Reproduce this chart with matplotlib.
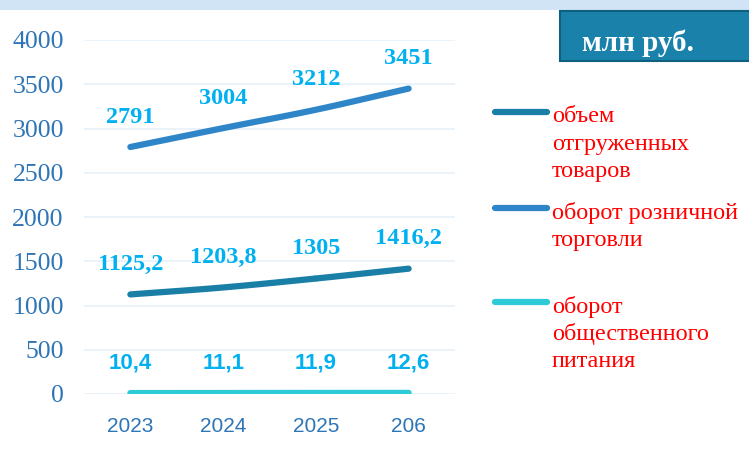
import numpy as np
import matplotlib
matplotlib.use("Agg")
import matplotlib.pyplot as plt
from matplotlib.patches import Rectangle

categories = ["2023", "2024", "2025", "206"]
shipped = [1125.2, 1203.8, 1305, 1416.2]
retail = [2791, 3004, 3212, 3451]
catering = [10.4, 11.1, 11.9, 12.6]
shipped_labels = ["1125,2", "1203,8", "1305", "1416,2"]
retail_labels = ["2791", "3004", "3212", "3451"]
catering_labels = ["10,4", "11,1", "11,9", "12,6"]
legend_names = [["объем", "отгруженных", "товаров"],
                ["оборот розничной", "торговли"],
                ["оборот", "общественного", "питания"]]
unit_text = "млн руб."

W, H = 749, 451
fig = plt.figure(figsize=(W / 100, H / 100), dpi=100)
fig.patch.set_facecolor("white")

# top band
fig.patches.append(Rectangle((0, 1 - 10 / H), 1, 10 / H, transform=fig.transFigure,
                             facecolor="#d0e4f5", edgecolor="none", zorder=0))
# unit box
fig.patches.append(Rectangle((560 / W, 1 - 61 / H), 200 / W, 50 / H, transform=fig.transFigure,
                             facecolor="#1a82aa", edgecolor="#0f5f80", linewidth=1.5, zorder=1))
fig.text(638 / W, 1 - 43 / H, unit_text, color="white", fontsize=21, fontweight="bold",
         family="Liberation Serif", ha="center", va="center")

ax = fig.add_axes([84 / W, 1 - 394 / H, 371 / W, 354 / H])
x = np.arange(len(categories))
ax.set_xlim(-0.5, len(categories) - 0.5)
ax.set_ylim(0, 4000)
ax.set_yticks(np.arange(0, 4001, 500))
ax.yaxis.grid(True, color="#e6f1fa", linewidth=1.2)
ax.set_axisbelow(True)
for s in ax.spines.values():
    s.set_visible(False)
ax.tick_params(length=0)
ax.set_xticks(x)
ax.set_xticklabels(categories, family="Liberation Sans", fontsize=15, color="#2e75b6")
ax.tick_params(axis="x", pad=16.5)
ax.tick_params(axis="y", pad=14.5)
for t in ax.get_yticklabels():
    t.set_family("Liberation Serif")
    t.set_fontsize(18.5)
    t.set_color("#2e75b6")


def smooth(xs, ys, n=40):
    xs = np.asarray(xs, float)
    ys = np.asarray(ys, float)
    px = np.concatenate([[2 * xs[0] - xs[1]], xs, [2 * xs[-1] - xs[-2]]])
    py = np.concatenate([[2 * ys[0] - ys[1]], ys, [2 * ys[-1] - ys[-2]]])
    ox, oy = [], []
    for i in range(1, len(px) - 2):
        t = np.linspace(0, 1, n)
        for p, o in ((px, ox), (py, oy)):
            p0, p1, p2, p3 = p[i - 1], p[i], p[i + 1], p[i + 2]
            o.extend(0.5 * ((2 * p1) + (-p0 + p2) * t + (2 * p0 - 5 * p1 + 4 * p2 - p3) * t ** 2
                            + (-p0 + 3 * p1 - 3 * p2 + p3) * t ** 3))
    return np.array(ox), np.array(oy)


series = [
    (shipped, shipped_labels, "#1a7fa6", "Liberation Serif", 17.5),
    (retail, retail_labels, "#2e86c8", "Liberation Serif", 17.5),
    (catering, catering_labels, "#2ecad6", "Liberation Sans", 16),
]
for vals, labs, col, fam, fs in series:
    sx, sy = smooth(x, vals)
    ax.plot(sx, sy, color=col, linewidth=4.5, solid_capstyle="round", zorder=3)
    for xi, v, lab in zip(x, vals, labs):
        ax.annotate(lab, (xi, v), xytext=(0, 21.5), textcoords="offset points",
                    ha="center", va="center", color="#00b0f0", fontsize=fs,
                    fontweight="bold", family=fam)

# legend
leg_y = [112, 208, 302]
for (vals, labs, col, fam, fs), lines, yy in zip(series, legend_names, leg_y):
    fig.add_artist(plt.Line2D([495 / W, 547 / W], [1 - yy / H, 1 - yy / H], transform=fig.transFigure,
                              color=col, linewidth=4.5, solid_capstyle="round"))
    for i, line in enumerate(lines):
        fig.text(552 / W, 1 - (yy + 10.5 + i * 27.3) / H, line, color="#ff0000", fontsize=17.5,
                 family="Liberation Serif", ha="left", va="baseline")

fig.savefig("out.png", dpi=100)
